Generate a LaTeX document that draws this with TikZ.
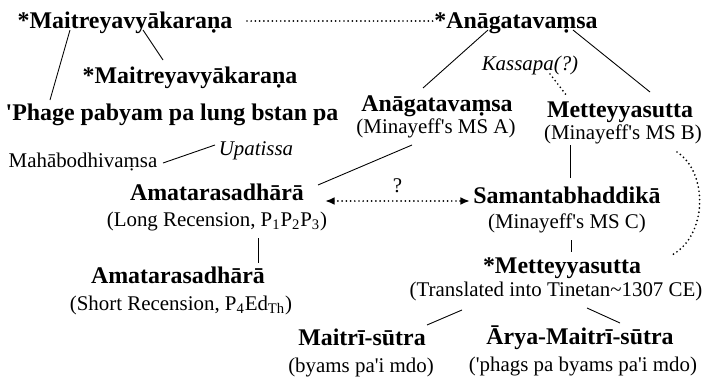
\documentclass[tikz,border=0pt]{standalone}
\usepackage{fontspec}
\setmainfont{Liberation Serif}
\usetikzlibrary{arrows.meta, calc}
\newcommand{\apos}{\textquotesingle}

\begin{document}
\begin{tikzpicture}[x=0.02cm, y=-0.02cm,
    textname/.style={anchor=base, inner sep=0pt, font=\fontsize{13.6}{16}\selectfont\bfseries},
    msline/.style={anchor=base, inner sep=0pt, font=\fontsize{11.9}{14}\selectfont},
    altname/.style={anchor=base, inner sep=0pt, font=\fontsize{11.9}{14}\selectfont\itshape},
    link/.style={line width=0.5pt},
    maybe/.style={line width=1.1pt, dash pattern=on 0pt off 2.4pt, line cap=round}]
    \useasboundingbox (0,0) rectangle (711,379);

    % texts
    \node[textname] (maitreya) at (125,28) {*Maitreyavyākaraṇa};
    \node[textname] (anagataTop) at (516,28) {*Anāgatavaṃsa};
    \node[textname] (maitreyaB) at (190,83) {*Maitreyavyākaraṇa};
    \node[textname] (phage) at (172,120) {\apos Phage pabyam pa lung bstan pa};
    \node[altname] (kassapa) at (530,70) {Kassapa(?)};
    \node[textname] (anagata) at (437,111) {Anāgatavaṃsa};
    \node[msline] (anagataMs) at (436,133) {(Minayeff\apos s MS A)};
    \node[textname] (mett) at (620,117) {Metteyyasutta};
    \node[msline] (mettMs) at (623,139) {(Minayeff\apos s MS B)};
    \node[msline] (maha) at (83,167) {Mahābodhivaṃsa};
    \node[altname] (upatissa) at (256,155) {Upatissa};
    \node[textname] (amataL) at (217,200) {Amatarasadhārā};
    \node[msline] (amataLMs) at (217,226) {(Long Recension, P\textsubscript{1}P\textsubscript{2}P\textsubscript{3})};
    \node[textname] (saman) at (567,203) {Samantabhaddikā};
    \node[msline] (samanMs) at (567,228) {(Minayeff\apos s MS C)};
    \node[textname] (amataS) at (178,283) {Amatarasadhārā};
    \node[msline] (amataSMs) at (181,310) {(Short Recension, P\textsubscript{4}Ed\textsubscript{Th})};
    \node[textname] (mettTib) at (562,273) {*Metteyyasutta};
    \node[msline] (mettTibMs) at (556,296) {(Translated into Tinetan\textasciitilde 1307 CE)};
    \node[textname] (maitri) at (362,345) {Maitrī-sūtra};
    \node[msline] (maitriMs) at (361,372) {(byams pa\apos i mdo)};
    \node[textname] (arya) at (580,344) {Ārya-Maitrī-sūtra};
    \node[msline] (aryaMs) at (583,371) {(\apos phags pa byams pa\apos i mdo)};

    % connectors
    \path[link]
        ($(maitreya.base)+(122,-7)$) edge[maybe] ($(anagataTop.base)+(-83,-7)$)
        ($(maitreya.base)+(-55,2)$) edge ($(phage.base)+(-122,-20)$)
        ($(maitreya.base)+(18,2)$) edge ($(maitreyaB.base)+(-27,-23)$)
        ($(anagataTop.base)+(-28,2)$) edge ($(anagata.base)+(-14,-23)$)
        ($(anagataTop.base)+(57,2)$) edge ($(mett.base)+(30,-25)$)
        ($(kassapa.base)+(20,4)$) edge[maybe] ($(mett.base)+(-53,-21)$)
        ($(maha.base)+(80,-4)$) edge ($(upatissa.base)+(-41,-10)$)
        ($(anagataMs.base)+(-24,12)$) edge ($(amataL.base)+(101,-15)$)
        ($(amataL.base)+(108,1)$) edge[maybe, {Latex[length=5.5pt,width=4.5pt]}-{Latex[length=5.5pt,width=4.5pt]}]
            node[above=1pt, font=\fontsize{11.9}{14}\selectfont] {?} ($(saman.base)+(-97,-2)$)
        ($(mettMs.base)+(-53,6)$) edge ($(saman.base)+(3,-25)$)
        ($(amataLMs.base)+(41,12)$) edge ($(amataS.base)+(80,-20)$)
        ($(samanMs.base)+(4,12)$) edge ($(mettTib.base)+(9,-21)$)
        ($(mettTibMs.base)+(-94,14)$) edge ($(maitri.base)+(65,-20)$)
        ($(mettTibMs.base)+(31,12)$) edge ($(arya.base)+(40,-21)$);
    \draw[maybe] ($(mettMs.base)+(54,13)$) .. controls +(31,20) and +(36,-20) .. ($(mettTib.base)+(110,-18)$);
\end{tikzpicture}
\end{document}
